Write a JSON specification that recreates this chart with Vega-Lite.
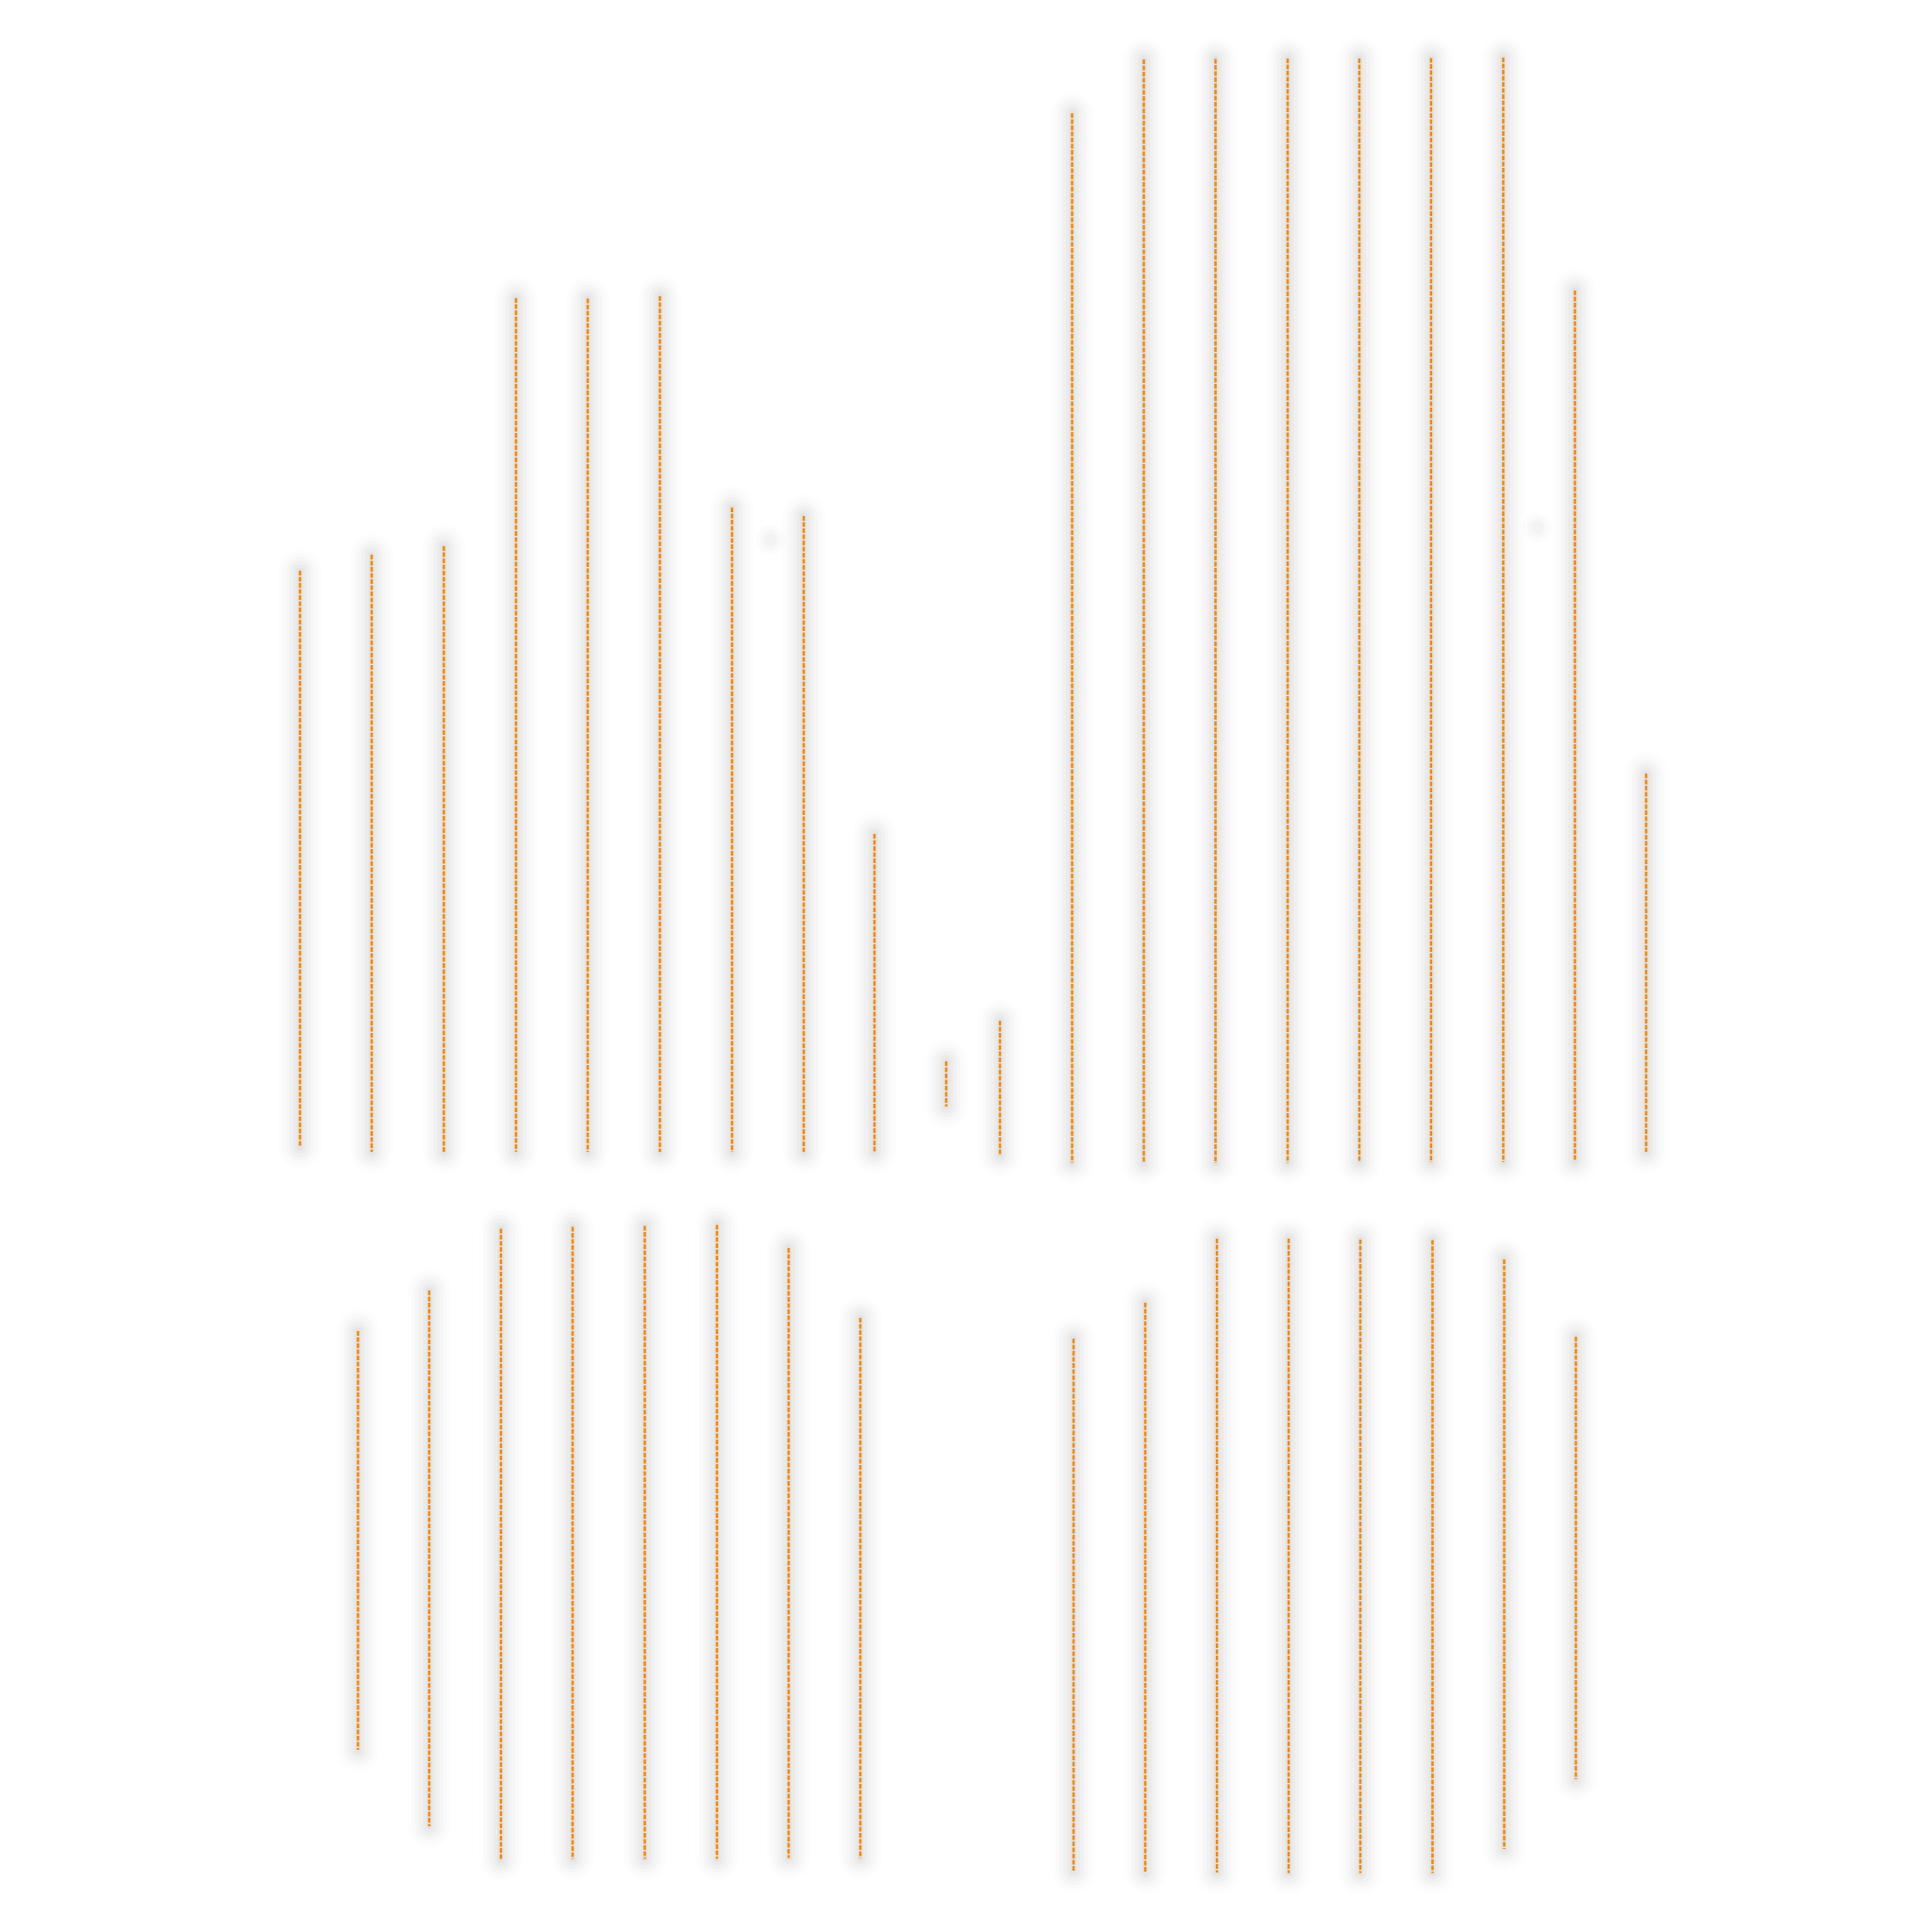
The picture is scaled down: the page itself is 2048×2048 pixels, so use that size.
{
  "$schema": "https://vega.github.io/schema/vega-lite/v6.json",
  "description": "Four groups of dashed orange range rules with soft shadows.",
  "autosize": {"type": "fit", "contains": "padding"},
  "width": 2048,
  "height": 2048,
  "padding": 0,
  "background": "white",
  "config": {"view": {"stroke": null}},
  "datasets": {
    "ranges": [
      {"group": "TL", "pos": 318, "hi": 1443, "lo": 832},
      {"group": "TL", "pos": 394, "hi": 1460, "lo": 827},
      {"group": "TL", "pos": 470.5, "hi": 1469, "lo": 827},
      {"group": "TL", "pos": 547, "hi": 1732, "lo": 827},
      {"group": "TL", "pos": 623, "hi": 1731.5, "lo": 827},
      {"group": "TL", "pos": 699.5, "hi": 1734, "lo": 827},
      {"group": "TL", "pos": 776, "hi": 1510, "lo": 827},
      {"group": "TL", "pos": 852, "hi": 1501, "lo": 827},
      {"group": "TL", "pos": 927, "hi": 1164, "lo": 827},
      {"group": "TL", "pos": 1003, "hi": 923, "lo": 875},
      {"group": "TR", "pos": 1060, "hi": 966, "lo": 823.5},
      {"group": "TR", "pos": 1136.5, "hi": 1928, "lo": 815.5},
      {"group": "TR", "pos": 1212.5, "hi": 1985, "lo": 815},
      {"group": "TR", "pos": 1288.5, "hi": 1985.5, "lo": 815},
      {"group": "TR", "pos": 1365, "hi": 1986, "lo": 815.5},
      {"group": "TR", "pos": 1441, "hi": 1986, "lo": 816},
      {"group": "TR", "pos": 1517, "hi": 1986.5, "lo": 816},
      {"group": "TR", "pos": 1593.5, "hi": 1987, "lo": 816},
      {"group": "TR", "pos": 1669.5, "hi": 1740, "lo": 817},
      {"group": "TR", "pos": 1745, "hi": 1228, "lo": 827},
      {"group": "BL", "pos": 379.5, "hi": 637, "lo": 193},
      {"group": "BL", "pos": 455, "hi": 680, "lo": 112},
      {"group": "BL", "pos": 531, "hi": 745.5, "lo": 76.5},
      {"group": "BL", "pos": 607, "hi": 747.5, "lo": 77.5},
      {"group": "BL", "pos": 683.5, "hi": 748.5, "lo": 77.5},
      {"group": "BL", "pos": 760, "hi": 749.5, "lo": 77.5},
      {"group": "BL", "pos": 836, "hi": 725, "lo": 78.5},
      {"group": "BL", "pos": 912, "hi": 651, "lo": 78.5},
      {"group": "BR", "pos": 1138, "hi": 629, "lo": 64.5},
      {"group": "BR", "pos": 1214, "hi": 667, "lo": 63.5},
      {"group": "BR", "pos": 1290, "hi": 735, "lo": 63},
      {"group": "BR", "pos": 1366, "hi": 735, "lo": 62.5},
      {"group": "BR", "pos": 1442, "hi": 734, "lo": 62.5},
      {"group": "BR", "pos": 1518.5, "hi": 733.5, "lo": 62.5},
      {"group": "BR", "pos": 1594.5, "hi": 713, "lo": 88},
      {"group": "BR", "pos": 1670.5, "hi": 631, "lo": 162}
    ],
    "dots": [
      {"pos": 817, "hi": 1476},
      {"pos": 1630, "hi": 1489}
    ]
  },
  "encoding": {
    "x": {
      "field": "pos",
      "type": "quantitative",
      "scale": {"domain": [0, 2048], "nice": false, "zero": false},
      "axis": null
    },
    "y": {
      "field": "hi",
      "type": "quantitative",
      "scale": {"domain": [0, 2048], "nice": false, "zero": false},
      "axis": null
    }
  },
  "layer": [
    {
      "data": {"name": "ranges"},
      "mark": {"type": "rule", "color": "black", "strokeWidth": 46, "opacity": 0.008, "strokeCap": "round"},
      "encoding": {"y2": {"field": "lo"}}
    },
    {
      "data": {"name": "ranges"},
      "mark": {"type": "rule", "color": "black", "strokeWidth": 38, "opacity": 0.012, "strokeCap": "round"},
      "encoding": {"y2": {"field": "lo"}}
    },
    {
      "data": {"name": "ranges"},
      "mark": {"type": "rule", "color": "black", "strokeWidth": 30, "opacity": 0.016, "strokeCap": "round"},
      "encoding": {"y2": {"field": "lo"}}
    },
    {
      "data": {"name": "ranges"},
      "mark": {"type": "rule", "color": "black", "strokeWidth": 22, "opacity": 0.02, "strokeCap": "round"},
      "encoding": {"y2": {"field": "lo"}}
    },
    {
      "data": {"name": "ranges"},
      "mark": {"type": "rule", "color": "black", "strokeWidth": 14, "opacity": 0.024, "strokeCap": "round"},
      "encoding": {"y2": {"field": "lo"}}
    },
    {
      "data": {"name": "ranges"},
      "mark": {"type": "rule", "color": "black", "strokeWidth": 7, "opacity": 0.026, "strokeCap": "round"},
      "encoding": {"y2": {"field": "lo"}}
    },
    {
      "data": {"name": "dots"},
      "mark": {"type": "point", "filled": true, "color": "black", "size": 1000, "opacity": 0.01}
    },
    {
      "data": {"name": "dots"},
      "mark": {"type": "point", "filled": true, "color": "black", "size": 500, "opacity": 0.015}
    },
    {
      "data": {"name": "dots"},
      "mark": {"type": "point", "filled": true, "color": "black", "size": 200, "opacity": 0.02}
    },
    {
      "data": {"name": "ranges"},
      "mark": {"type": "rule", "color": "#f28705", "strokeWidth": 2.5, "strokeDash": [5, 1.5]},
      "encoding": {"y2": {"field": "lo"}}
    }
  ]
}
